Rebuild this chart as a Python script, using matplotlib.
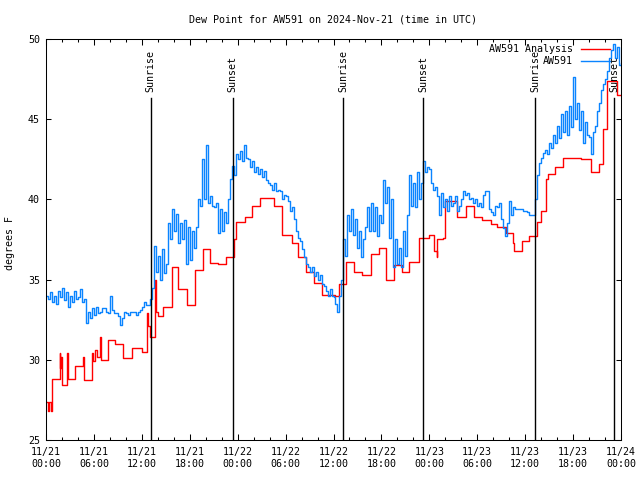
import numpy as np
import matplotlib
matplotlib.use("Agg")
import matplotlib.pyplot as plt
import matplotlib.dates as mdates

start = np.datetime64("2024-11-21T00:00")
end = np.datetime64("2024-11-24T00:00")

# AW591 observations, every 15 minutes from 11/21 00:00 (degrees F)
obs_step_h = 0.25
obs_vals = [
    34.0, 33.8, 34.2, 33.6, 34.0, 33.5, 34.3, 33.9, 34.5, 33.7, 34.2, 33.3,
    34.0, 33.6, 34.3, 33.8, 33.9, 34.4, 33.6, 33.8, 32.3, 33.0, 32.6, 33.2,
    32.8, 33.3, 32.9, 33.0, 33.2, 33.2, 33.0, 32.9, 34.0, 33.1, 32.9, 32.9,
    32.7, 32.2, 32.6, 33.0, 32.9, 32.8, 33.0, 33.0, 33.0, 32.8, 33.0, 33.1,
    33.3, 33.6, 33.4, 33.4, 33.8, 34.5, 37.1, 35.5, 36.5, 35.0, 36.9, 35.4,
    36.0, 38.5, 37.5, 39.4, 38.0, 39.1, 37.3, 38.5, 37.5, 38.7, 36.0, 38.3,
    36.2, 38.0, 37.0, 38.3, 40.0, 39.6, 42.5, 40.0, 43.4, 39.8, 40.2, 39.6,
    39.5, 39.8, 37.9, 39.4, 38.0, 39.2, 38.5, 40.0, 41.3, 42.1, 41.5, 42.8,
    42.5, 43.0, 42.4, 43.4, 42.6, 42.5, 42.0, 42.4, 41.7, 42.0, 41.6, 41.9,
    41.4, 41.8, 41.2, 41.0, 40.9, 40.6, 41.0, 40.5, 40.6, 40.5, 40.0, 40.3,
    40.2, 39.9, 39.3, 39.5, 38.8, 38.0, 37.6, 37.4, 36.9, 36.4, 36.0, 35.8,
    35.5, 35.8, 35.2, 35.5, 35.0, 35.3, 34.7, 34.6, 34.3, 34.0, 34.4, 34.0,
    33.9, 33.5, 33.0, 34.0, 35.0, 37.5, 36.5, 39.0, 38.0, 39.4, 37.8, 38.8,
    37.0, 38.0, 36.4, 37.5, 38.3, 39.5, 38.0, 39.8, 38.0, 39.5, 37.7, 39.0,
    38.5, 41.2, 39.8, 40.8, 37.6, 40.0, 35.8, 37.5, 36.0, 37.0, 35.8, 38.0,
    36.5, 39.0, 41.5, 39.6, 41.0, 39.5, 41.7, 40.0, 41.0, 42.4, 41.7, 42.0,
    41.9, 41.0, 40.6, 40.8, 40.2, 39.0, 40.4, 39.5, 40.0, 39.3, 40.2, 39.6,
    39.8, 40.2, 39.3, 39.6, 40.0, 40.5, 40.3, 40.4, 40.0, 40.1, 39.8, 40.0,
    39.6, 39.8, 39.5, 40.3, 40.5, 40.5, 39.4, 39.2, 39.0, 39.6, 39.5, 39.8,
    38.8, 38.2, 37.7, 38.5, 39.9, 39.0, 39.5, 39.4, 39.4, 39.4, 39.4, 39.3,
    39.3, 39.2, 39.0, 39.0, 39.0, 40.0, 41.5, 42.3, 42.6, 42.9, 43.1, 42.8,
    43.5, 43.2, 44.0, 43.5, 44.6, 43.8, 45.3, 44.2, 45.5, 44.0, 45.8, 44.5,
    47.6, 45.0, 46.0, 44.3, 45.5, 43.5, 44.8, 44.0, 43.9, 42.8, 44.2, 44.6,
    45.5, 46.0, 46.8, 47.2, 47.5, 48.0, 48.8, 49.3, 49.7, 48.8, 49.5, 48.4,
    48.5,
]

# AW591 analysis, step changes (hours after 11/21 00:00, degrees F)
ana_hours = [
    0.0, 0.2, 0.4, 0.6, 0.75, 1.7, 1.8, 1.9, 2.0, 2.6, 2.7, 3.6, 4.6, 4.7,
    5.75, 5.9, 6.1, 6.4, 6.75, 6.85, 7.75, 8.6, 9.6, 10.75, 12.0, 12.6,
    12.75, 13.0, 13.6, 13.75, 14.0, 14.6, 15.75, 16.5, 17.6, 18.6, 19.6,
    20.5, 21.5, 22.6, 23.6, 23.75, 24.9, 25.75, 26.75, 28.6, 29.6, 30.75,
    31.5, 32.6, 33.6, 34.6, 36.25, 36.75, 37.6, 38.6, 39.6, 40.75, 41.75,
    42.6, 43.6, 44.6, 45.5, 46.75, 48.0, 48.6, 48.9, 49.0, 49.75, 49.9,
    51.5, 52.6, 53.6, 54.6, 55.75, 56.5, 57.6, 58.5, 58.6, 59.6, 60.5,
    61.5, 62.0, 62.6, 62.9, 63.75, 64.75, 67.0, 68.2, 69.2, 69.8, 70.3,
    71.5, 72.0,
]
ana_vals = [
    27.4, 26.8, 27.4, 26.8, 28.8, 30.4, 29.5, 30.2, 28.4, 30.4, 28.8, 29.6,
    30.2, 28.75, 30.4, 29.9, 30.6, 30.2, 31.4, 30.0, 31.25, 31.0, 30.1,
    30.75, 30.5, 32.9, 32.1, 31.4, 35.0, 33.0, 32.7, 33.3, 35.8, 34.4, 33.4,
    35.6, 36.9, 36.06, 36.0, 36.44, 37.5, 38.6, 38.9, 39.56, 40.1, 39.56,
    37.75, 37.3, 36.44, 35.5, 34.8, 34.06, 34.0, 34.7, 36.1, 35.5, 35.3,
    36.6, 37.0, 35.0, 35.9, 35.5, 36.1, 37.6, 37.75, 36.8, 36.4, 37.5,
    37.6, 39.9, 38.9, 39.56, 38.9, 38.7, 38.44, 38.25, 37.9, 37.3, 36.8,
    37.4, 37.7, 38.56, 39.3, 41.25, 41.6, 42.0, 42.6, 42.5, 41.7, 42.2,
    44.4, 47.4, 46.5, 46.5,
]

sunrise_hours = [13.12, 37.25, 61.25]
sunset_hours = [23.37, 47.25, 71.12]


def to_time(hours):
    mins = np.round(np.asarray(hours) * 60).astype(int)
    return start + mins.astype("timedelta64[m]")


obs_t = to_time(np.arange(len(obs_vals)) * obs_step_h)
ana_t = to_time(ana_hours)

plt.rcParams["font.family"] = "DejaVu Sans Mono"
plt.rcParams["font.size"] = 7.2

fig = plt.figure(figsize=(6.4, 4.8), dpi=100)
ax = fig.add_axes([46 / 640, 40 / 480, 575 / 640, 401 / 480])

ax.plot(ana_t, ana_vals, drawstyle="steps-post", color="#ff0000", lw=1.0,
        label="AW591 Analysis")
ax.plot(obs_t, obs_vals, drawstyle="steps-post", color="#0a84ff", lw=1.0,
        label="AW591")

for names, hrs in (("Sunrise", sunrise_hours), ("Sunset", sunset_hours)):
    for t in to_time(hrs):
        ax.plot([t, t], [25, 46.3], color="black", lw=1.0)
        ax.text(t, 46.7, names, rotation=90, ha="center", va="bottom")

ax.set_xlim(start, end)
ax.set_ylim(25, 50)
ax.set_yticks(range(25, 51, 5))
ax.xaxis.set_major_locator(mdates.HourLocator(byhour=[0, 6, 12, 18]))
ax.xaxis.set_minor_locator(mdates.HourLocator(byhour=range(0, 24, 2)))
ax.xaxis.set_major_formatter(mdates.DateFormatter("%m/%d\n%H:%M"))

ax.tick_params(which="both", direction="in", top=True, right=True, width=0.75)
ax.tick_params(axis="x", which="major", length=4.3, pad=5)
ax.tick_params(axis="x", which="minor", length=2.2)
ax.tick_params(axis="y", length=3.6, pad=4.3)
for s in ax.spines.values():
    s.set_linewidth(0.75)

ax.legend(loc="upper right", bbox_to_anchor=(610 / 640, 1 - 44 / 480),
          bbox_transform=fig.transFigure, frameon=False, markerfirst=False,
          borderpad=0, borderaxespad=0, handlelength=2.9, handletextpad=0.8,
          labelspacing=0.2)

fig.text(333 / 640, 1 - 20 / 480, "Dew Point for AW591 on 2024-Nov-21 (time in UTC)",
         ha="center", va="center")
fig.text(10 / 640, 1 - 243 / 480, "degrees F", rotation=90, ha="center", va="center")

fig.savefig("out.png", dpi=100)
